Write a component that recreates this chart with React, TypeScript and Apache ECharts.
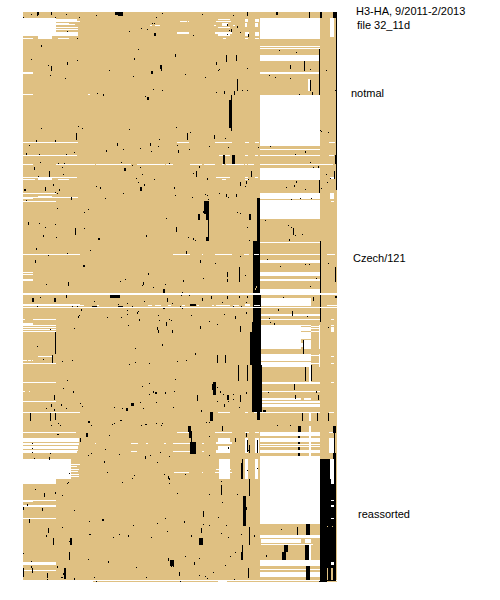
import React, { useEffect, useRef } from "react";
import * as echarts from "echarts";

// All marks are in raster units: column (site) and row (strain), [x0, y0, x1, y1]
const xRange = [23, 337];
const yRange = [12, 582];

const whiteBands: number[][] = [
  // top-left block
  [23,18,56,32],[23,32,78,36],[56,19,77,21],[56,21,80,22],[56,23,69,25],[56,24,75,25],[56,27,78,28],[56,29,78,30],
  [23,38,33,39],[38,36,52,39],[58,38,69,39],[180,21,187,22],[188,21,189,22],[150,25,152,26],[155,25,160,26],[177,32,189,34],
  // top clusters
  [218,19,230,20],[216,21,231,22],[222,23,228,26],[214,25,216,26],[233,25,235,26],[218,27,230,28],[215,32,232,34],[218,34,230,36],[223,38,226,39],
  [245,19,248,22],[245,23,247,27],[245,32,249,36],[245,38,248,39],[255,19,259,22],[255,23,258,27],[255,32,259,36],[255,38,259,39],
  // main column block
  [260,18,320,39],[260,46,320,47],[260,48,320,49],[260,55,320,61],[260,72,320,74],[260,95,320,146],[260,149,320,150],[260,155,320,156],[260,168,320,180],[260,193,320,199],
  [308,79,310,91],[330,18,334,37],[329,142,335,143],[329,155,334,156],[330,177,334,179],[330,193,334,199],
  // left rows
  [23,72,33,74],[23,94,33,95],[88,94,90,95],[23,142,78,143],[177,142,189,143],[215,142,232,143],[245,142,249,143],[255,142,259,143],
  [23,155,77,156],[219,155,230,156],[245,155,248,156],[255,155,258,156],
  [23,164,33,165],[56,164,95,165],[96,164,131,165],[137,164,165,165],[166,164,173,165],[190,164,202,165],[204,164,215,165],[222,164,224,165],[226,164,244,165],[245,164,247,165],[248,164,254,165],[260,164,320,165],[320,164,333,165],
  [23,177,77,178],[216,177,230,178],[245,177,248,178],[255,177,258,178],[23,179,35,180],[38,178,52,180],[58,179,69,180],[222,179,226,180],[245,179,248,180],
  [23,193,56,194],[23,197,78,198],[23,198,33,199],[38,196,52,198],
  [23,201,56,202],[260,200,320,219],[331,201,334,202],
  [23,254,80,255],[173,254,190,255],[202,254,203,255],[215,254,232,255],[244,254,249,255],
  [23,272,33,273],[23,274,33,275],[23,279,33,281],
  // Czech/121 column lines
  [260,242,320,243],[260,254,320,255],[327,254,335,255],[260,260,320,263],[260,272,320,276],[260,279,320,281],[260,289,320,293],
  [261,298,311,306],[260,314,320,316],[260,319,320,320],
  [261,325,301,349],[301,325,311,326],[301,327,311,331],[301,332,311,339],[301,343,303,347],[304,340,311,349],
  [311,326,319,327],[311,328,319,329],[311,331,319,332],[319,325,320,349],
  [261,354,311,361],[261,362,311,367],[311,355,319,356],[311,363,319,364],[319,354,320,367],
  [261,382,320,384],[260,391,320,392],[309,367,311,382],[261,398,301,400],[304,398,311,400],
  [23,304,80,306],[80,305,84,306],[97,305,99,306],[148,305,152,306],[155,305,161,306],[168,305,171,306],[182,305,185,306],[197,305,199,306],[212,305,214,306],[216,305,230,306],[233,305,239,306],[245,304,250,306],
  [23,319,25,320],[33,319,56,320],[23,323,33,325],[23,325,56,326],[23,327,56,328],[23,329,56,330],[23,331,56,332],
  [38,356,52,357],[23,360,27,361],[28,360,31,361],[32,360,33,361],[23,363,56,364],[23,382,56,383],[23,391,25,392],[29,391,30,392],
  [331,319,334,320],[331,325,334,326],[331,327,334,332],[331,356,334,357],[331,363,334,364],[331,382,334,383],
  // lower rows
  [260,401,320,403],[260,404,320,407],[23,401,56,402],[23,412,80,413],[218,412,230,413],[245,412,248,413],[254,412,257,413],[260,412,320,413],[329,412,334,413],[309,413,311,421],
  [23,432,76,433],[177,432,189,433],[215,432,232,433],[245,432,249,433],[255,432,259,433],[329,432,335,433],[260,432,320,436],
  [23,438,79,442],[23,443,79,445],[23,446,78,449],[23,450,78,451],[23,451,77,453],
  [260,438,320,442],[260,444,320,445],[260,446,320,447],[260,450,320,453],[309,426,311,456],
  [218,438,230,442],[216,442,232,444],[218,446,230,450],[216,450,230,453],[245,438,248,453],[255,438,259,453],[329,438,334,453],
  [131,443,138,444],[146,443,148,444],[164,443,166,444],[173,443,190,444],[202,443,204,444],[95,443,96,444],[131,451,137,452],[173,451,190,452],[202,451,204,452],
  // reassorted block
  [23,459,71,479],[23,479,56,484],[71,464,80,465],[71,466,77,467],[71,469,79,470],[71,471,78,472],[71,474,79,475],[71,476,79,477],
  [174,472,189,473],[202,472,203,473],[219,459,230,479],[215,472,232,473],[216,469,231,470],[245,459,248,479],[255,459,258,479],[260,456,320,524],
  [23,500,56,501],[23,501,33,502],[23,505,56,507],[23,518,56,519],
  [23,562,56,565],[23,570,56,571],
  [260,535,320,538],[261,539,301,543],[305,539,311,543],[261,544,313,545],[260,560,320,566],[260,569,320,570],[260,572,320,577],
  [309,545,311,560],[23,580,93,582],[93,580,218,581],[218,580,227,582],[227,580,337,581],
];

const blackBlocks: number[][] = [
  [115,12,4,3],[118,12,5,4],[229,100,3,28],[231,128,1,3],[231,95,1,5],[223,155,2,9],[232,155,3,9],
  [320,12,2,6],[333,12,3,6],[309,12,1,6],[276,12,2,3],[247,12,1,4],[336,12,1,178],[319,49,1,46],[319,180,1,13],[335,155,2,9],
  // deletion column in the middle
  [257,198,3,43],[253,241,7,52],[253,295,8,37],[252,322,9,10],[250,332,11,33],[252,365,10,47],[257,412,3,8],[263,410,3,2],
  [320,241,1,52],[320,295,1,27],[335,267,1,15],
  // diagonal lineages
  [204,201,5,13],[206,214,3,6],[208,220,1,17],[206,237,3,4],[198,214,2,6],[249,214,2,6],
  [213,382,3,13],[212,384,1,6],[188,426,3,6],[189,431,3,7],[191,438,1,4],[190,442,6,12],
  [110,295,10,3],[32,298,2,4],[54,298,2,4],[163,289,2,4],[92,306,5,1],[118,306,5,1],[190,304,6,2],[147,97,2,3],[124,168,2,3],[98,238,2,2],[83,265,2,2],
  [151,71,2,3],[160,65,2,4],[154,33,2,3],[140,187,2,4],[24,189,2,2],[210,412,3,9],[126,408,2,3],[131,403,3,3],[86,433,2,4],[88,421,2,2],[102,519,2,2],
  [199,538,4,7],[70,538,2,7],[170,560,4,6],[64,568,2,11],[243,496,3,30],[246,507,1,3],[155,392,2,2],[227,395,2,5],
  // reassorted columns
  [320,459,16,122],[333,426,3,7],[334,433,1,20],[333,453,3,6],
  [306,524,4,11],[305,545,4,15],[306,566,4,14],[298,426,3,6],[298,436,2,2],[298,442,2,2],[298,447,2,3],[298,453,2,3],
  [284,545,4,7],[282,552,4,8],[319,581,8,1],
];

const blackSpecks: number[][] = [
  [37,12,3],[38,12,3],[51,12,3],[23,17],[31,14],[37,15],[55,17],[66,14],[79,17],[96,15],[162,13],[156,17],[202,14],[233,15],[152,23],[154,23],[141,28],[147,29],[129,31],[193,35],[67,31],[77,38],
  [41,45,2],[138,49],[175,54,3],[134,58,2],[31,59],[77,60],[67,62,3],[48,65],[51,66,5],[109,70],[161,66,5],[185,74],[50,75],[133,76],[205,77],[65,78],[153,89],[162,90],[97,93],[103,94,2],[145,96],
  [41,128],[78,126],[82,128],[129,129],[176,127],[190,132],[76,133,7],[187,133,7],[214,135,4],[159,139],[225,138],[36,140,2],[55,140,2],[29,145],[117,143,3],[150,143,3],[140,148],[158,146],[177,145],[209,146],[228,147],[106,150,2],[123,149],[151,151],[178,150,3],[189,149],[26,153,2],[39,154],[66,154],[74,152],
  [121,162],[40,162],[58,163],[64,163],[132,165],[169,163],[199,166,2],[140,167],[62,167],[34,167,3],[142,174],[193,173],[196,171,6],[49,171,6],[63,174],[38,176],[136,178],[154,179],[207,178,2],[138,182],[144,184,2],[53,184,2],[96,186],[100,187,2],[174,187,2],[245,186],[240,182,3],[246,181,3],[248,179],[45,187,4],[59,189,2],[55,192],[57,193],[123,193],[219,193],[226,194,3],[236,194,3],[228,197],[205,194],[207,195],[175,195],[192,197],[208,199],[105,198],[71,197,3],
  [226,55,7],[236,55,6],[216,62,3],[219,69],[218,70],[247,68],[237,79,12],[242,90],[247,90],[216,92],[224,91,3],[234,91,4],[227,24,2],[237,26,2],[231,29,3],[229,30],[240,32],[227,34],[248,34,3],
  [279,50],[296,52],[290,65,4],[304,61,10],[310,69],[326,70],[269,75],[275,77],[290,78],[310,80,11],[299,94],[312,92,3],[335,90],[320,130],[321,131],[328,132],[270,146],[258,147],[305,151,2],[295,154],[318,166,2],[310,162],[313,167],[334,171,8],[326,174],[330,178],[321,188],[327,182],[294,185,2],[296,181,2],[286,187],[305,189],[291,199],[300,198],[311,198],[251,171,6],[246,181,3],[240,183,3],
  [26,200],[57,208],[88,209],[84,212],[28,222,3],[39,223],[55,224],[45,227],[75,228,7],[84,228],[43,235,2],[56,237],[90,250],[36,248,2],[48,255],[67,253],[146,235,2],[166,218],[176,227,5],[188,237],[193,238,2],[195,240],[203,211,2],[237,212],[240,213],[247,227],[249,240],[186,251,3],[35,260,3],[200,260,3],[215,263],[240,256],
  [239,267,15],[227,272,5],[227,279,3],[245,275],[203,278],[183,280,2],[148,273,2],[125,279],[120,281],[68,282,4],[46,284],[143,282,3],[142,285],[153,287],[165,284],
  [66,295,3],[40,297],[94,301],[144,301],[167,298,4],[182,292],[181,295],[189,295],[202,298,3],[211,296,3],[227,296,3],[239,296,2],[247,296,2],[222,302],[246,302],[127,303],[172,303],[37,306],[72,306],[77,306],[132,306],[180,306],[233,306],[241,306],[118,304],
  [182,308],[163,308],[164,308],[81,309,2],[127,310],[138,311],[137,312,2],[79,315],[78,316,2],[127,314],[107,317],[121,317],[158,315],[191,315],[224,314],[235,316,3],[246,312,2],[169,319],[171,320],[159,320],[139,319,2],[209,321],[166,322,4],[217,324],[200,326,3],[240,326,6],[157,327,3],[158,330,3],[172,330,3],[128,325],[74,328],[50,329],
  [55,332,22],[37,346],[135,348],[162,344,2],[195,353,2],[217,355,8],[225,355,8],[52,355,8],[43,359],[62,361],[72,360],[135,362],[129,364],[149,363],[177,361],[186,360],
  [238,365,16],[247,365,16],[175,379],[149,383],[142,386],[67,380],[63,388],[73,391,2],[217,387],[220,391,2],[153,391,2],[165,392,2],[174,391],[149,394],[223,394],[233,394],[246,392,2],[54,395,5],[197,395,5],[240,395,5],[233,399],
  [265,220],[288,225],[291,227],[293,228,7],[295,235],[302,234],[289,239,2],[267,259],[280,266],[305,264],[309,264],[316,278],[310,286],[328,263],
  [313,297,4],[335,296,2],[336,296,2],[283,297],[278,309,2],[292,311,5],[269,318],[307,316],[274,323,2],[270,322],[328,327],[303,340,14],[305,367,14],[311,365,16],[294,384,6],[295,395,4],[316,391,2],[318,395,5],[268,392],
  [51,404,3],[46,408],[61,404,2],[66,408],[54,409,2],[80,403],[82,406],[114,407],[122,408],[140,402],[143,408],[156,402],[173,407],[197,400],[201,410,2],[217,401],[224,404,3],[228,401],[240,400,2],[239,407],
  [30,413,8],[50,413,8],[55,413,7],[91,425],[58,423],[60,425],[51,425],[112,424],[114,423],[120,420],[121,420],[141,425],[145,424],[146,424],[156,423],[162,423],[161,425],[206,422],[209,422],[222,426,5],[57,434],[58,434],[109,435],[209,436],[235,438,4],[246,433,4],[80,438,4],
  [32,443],[32,448],[32,452],[50,453],[88,455],[91,453],[105,449],[119,454],[145,456,3],[150,455],[160,452],[169,456],[157,462],[104,461,2],[107,472],[134,475],[132,478],[122,482],[68,482],[67,483],[164,474],[168,476,3],[169,478,2],[169,483],[185,474],[209,455],[34,458],[49,457,3],[69,473],[228,447,2],[249,445,8],[248,450],
  [242,459,20],[241,463,16],[221,485,10],[221,481],[209,494],[177,493],[237,494],[222,502],[218,517],[203,511,6],[249,479,17],[35,489],[44,493,4],[55,492,2],[62,495],[27,504,2],[23,507,3],[42,508,3],[74,510],
  [29,519,4],[89,521],[165,518],[184,521,2],[203,524],[209,525],[226,525],[62,527],[133,525],[157,523],[48,528,5],[201,528,5],[167,531],[46,535,2],[53,538,7],[89,534],[90,534],[113,537],[119,534],[128,535,2],[151,537],[191,535,2],[221,533],[228,537],[241,534],[249,527,18],[69,541],[69,552,8],
  [242,545,15],[241,552,8],[235,552],[230,556],[23,553],[31,561],[31,566,2],[88,559],[108,561,2],[168,558,3],[185,556],[199,558],[194,562,3],[225,565],[171,566],[173,566],[57,566,2],[136,567],[213,572],[32,568,5],[23,568,9],[47,573,5],[47,579],[63,573,2],[61,577],[62,577],[74,578,2],[94,577],[96,581],[146,577],[179,572,4],[180,581],[199,575],[205,576],[207,578],[234,579],[248,568,10],
  [281,529],[297,527,8],[254,535,2],[266,555,2],[277,425],[290,425],[317,413,8],[328,413,8],[302,413,8],[247,440,12],[257,440,13],[247,470],[257,468],
];

// drawn last: these cut through the black columns
const overWhites: number[][] = [
  [23,293,337,295],[23,307,337,308],[254,254,259,255],[254,305,260,306],[330,459,334,479],[331,479,334,484],
  [331,500,334,501],[331,505,334,507],[331,518,334,519],[331,562,334,565],[327,305,337,306],
];

const tanSlits: number[][] = [
  [327,568,328,580],[331,568,332,580],[332,568,333,580],[327,526,328,527],[332,526,333,527],[256,286,257,288],[255,288,256,290],
];

const labels = [
  { text: "H3-HA, 9/2011-2/2013", x: 356, y: 11 },
  { text: "file 32_11d", x: 357, y: 25 },
  { text: "notmal", x: 351, y: 93 },
  { text: "Czech/121", x: 353, y: 258 },
  { text: "reassorted", x: 358, y: 514 },
];

const blockToRect = ([x, y, w, h]: number[]) => [x, y, x + w, y + h];
const speckToRect = ([x, y, len = 1]: number[]) => [x, y, x + 1, y + len];

const rectSeries = (data: number[][], fill: string, z: number) => ({
  type: "custom",
  silent: true,
  z,
  clip: true,
  data,
  encode: { x: [0, 2], y: [1, 3] },
  renderItem: (_p: unknown, api: any) => {
    const a = api.coord([api.value(0), api.value(1)]);
    const b = api.coord([api.value(2), api.value(3)]);
    return {
      type: "rect",
      shape: { x: a[0], y: a[1], width: b[0] - a[0], height: b[1] - a[1] },
      style: { fill, stroke: "none" },
    };
  },
});

export default function App() {
  const ref = useRef<HTMLDivElement>(null);
  useEffect(() => {
    const chart = echarts.init(ref.current!, undefined, { renderer: "svg" });
    chart.setOption({
      animation: false,
      backgroundColor: "#ffffff",
      grid: {
        show: true,
        left: xRange[0],
        top: yRange[0],
        width: xRange[1] - xRange[0],
        height: yRange[1] - yRange[0],
        backgroundColor: "#DFC082",
        borderWidth: 0,
      },
      xAxis: { type: "value", min: xRange[0], max: xRange[1], show: false },
      yAxis: { type: "value", min: yRange[0], max: yRange[1], inverse: true, show: false },
      series: [
        rectSeries(whiteBands, "#ffffff", 2),
        rectSeries(blackBlocks.map(blockToRect), "#000000", 3),
        rectSeries(blackSpecks.map(speckToRect), "#000000", 4),
        rectSeries(overWhites, "#ffffff", 5),
        rectSeries(tanSlits, "#DFC082", 6),
      ],
      graphic: labels.map((l) => ({
        type: "text",
        x: l.x,
        y: l.y,
        style: {
          text: l.text,
          fill: "#000000",
          font: '11px "Liberation Sans", Arial, sans-serif',
          textVerticalAlign: "middle",
        },
      })),
    });
    return () => chart.dispose();
  }, []);
  return <div ref={ref} style={{ position: "absolute", left: 0, top: 0, width: 500, height: 600 }} />;
}
